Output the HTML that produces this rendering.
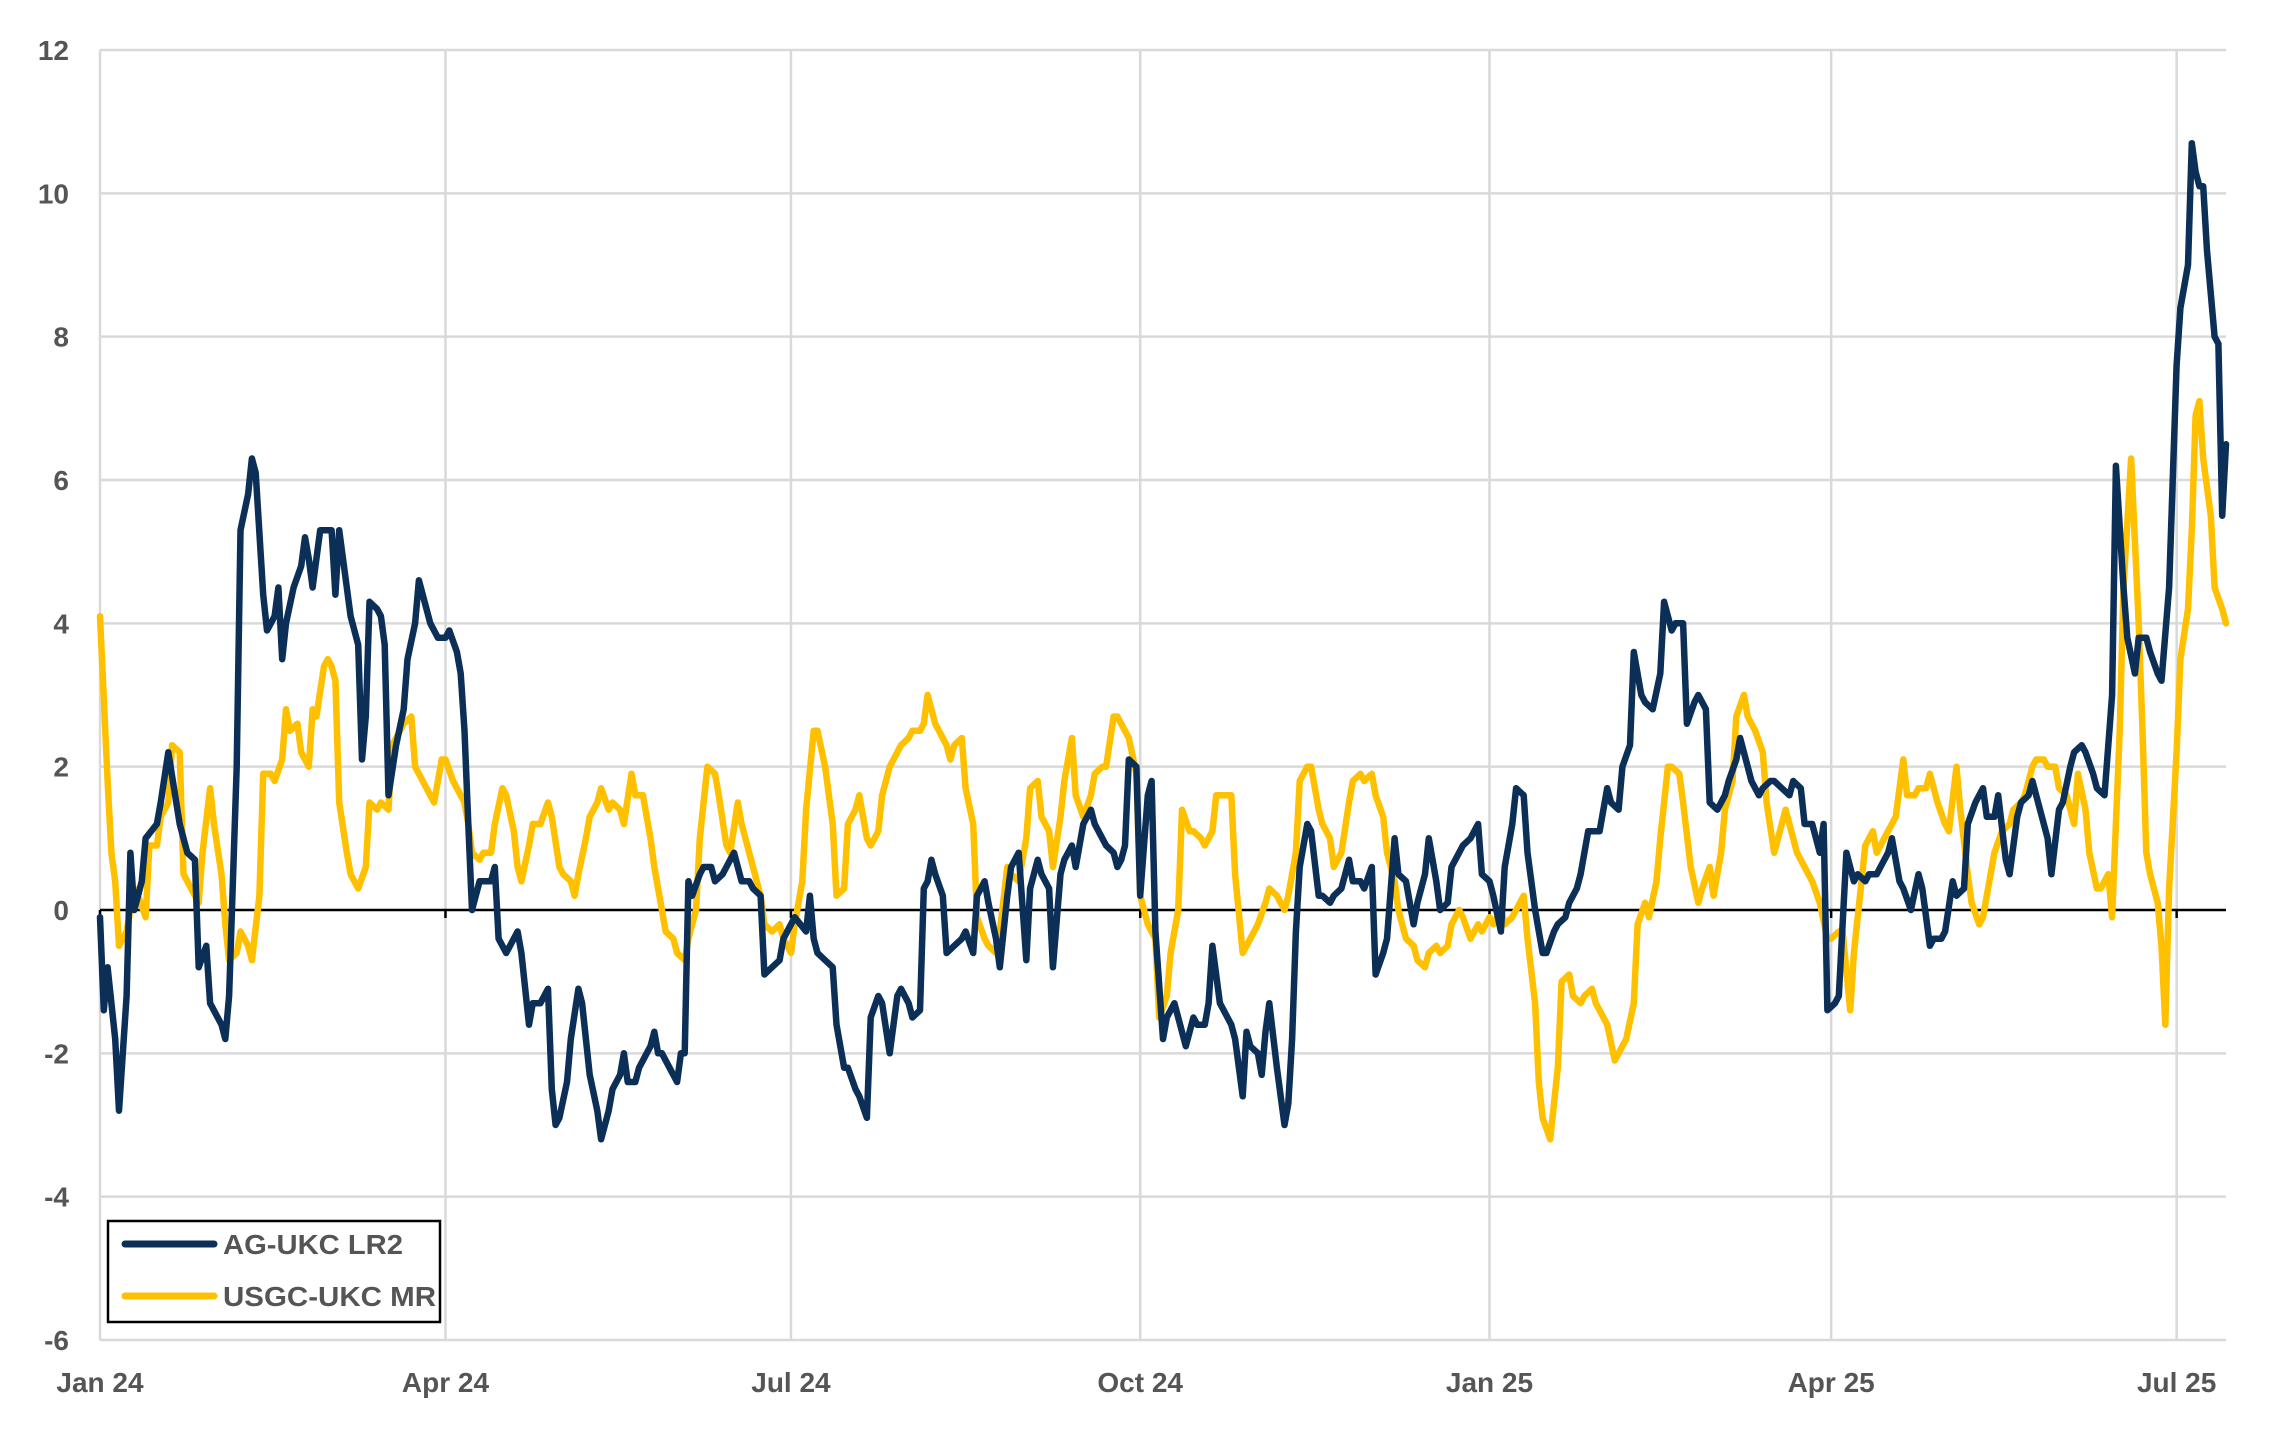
<!DOCTYPE html>
<html><head><meta charset="utf-8"><style>
html,body{margin:0;padding:0;background:#fff;}
svg{display:block;}
text{font-family:"Liberation Sans",sans-serif;font-weight:bold;fill:#555;}
</style></head><body>
<svg id="chart" width="2269" height="1429" viewBox="0 0 2269 1429" xmlns="http://www.w3.org/2000/svg">
<g id="grid"></g>
<g id="axes"></g>
<g id="series"></g>
<g>
<rect x="108" y="1221" width="332" height="101" fill="#fff" stroke="#000" stroke-width="2.5"/>
<line x1="125" y1="1244" x2="214" y2="1244" stroke="#0c2f57" stroke-width="7" stroke-linecap="round"/>
<text x="223" y="1254" font-size="28" textLength="180" lengthAdjust="spacingAndGlyphs">AG-UKC LR2</text>
<line x1="125" y1="1296" x2="214" y2="1296" stroke="#ffc000" stroke-width="7" stroke-linecap="round"/>
<text x="223" y="1306" font-size="28" textLength="213" lengthAdjust="spacingAndGlyphs">USGC-UKC MR</text>
</g>
</svg>
<script>
const yTicks=[12,10,8,6,4,2,0,-2,-4,-6];
const xTickDays=[0,91,182,274,366,456,547];
const xTickLabels=["Jan 24","Apr 24","Jul 24","Oct 24","Jan 25","Apr 25","Jul 25"];
const agDays=[0,1,2,4,5,7,8,9,11,12,15,16,18,21,23,25,26,28,29,32,33,34,36,37,39,40,41,43,44,46,47,48,49,51,53,54,55,56,58,60,61,62,63,65,66,68,69,70,71,73,74,75,76,78,80,81,83,84,86,87,89,91,92,94,95,96,97,98,100,103,104,105,107,108,110,111,113,114,116,118,119,120,121,123,124,126,127,128,129,131,132,134,135,137,138,139,141,142,144,145,146,147,148,150,152,153,154,155,156,158,159,161,162,164,165,167,168,169,171,172,174,175,177,179,180,182,183,186,187,188,189,191,193,194,196,197,199,200,202,203,205,206,208,210,211,213,214,216,217,218,219,220,222,223,225,227,228,230,231,233,234,236,237,239,240,242,244,245,247,248,250,251,253,254,256,257,259,261,262,264,265,267,268,269,270,271,273,274,276,277,278,280,281,283,285,286,288,289,291,292,293,295,296,298,299,301,302,303,305,306,307,308,310,312,313,314,315,316,318,319,321,322,324,325,327,329,330,332,333,335,336,338,339,341,342,344,346,347,349,350,352,353,355,356,358,359,361,363,364,366,367,369,370,372,373,375,376,378,380,381,383,384,386,387,389,390,392,394,395,397,398,400,401,403,404,406,407,409,411,412,414,415,417,418,420,421,423,424,426,428,429,431,432,434,435,437,438,440,441,443,445,446,448,449,451,452,453,454,455,457,458,460,462,463,465,466,468,469,471,472,474,475,477,479,480,482,483,485,486,488,489,491,492,494,496,497,499,500,502,503,505,506,508,509,511,513,514,516,517,519,520,522,523,525,526,528,530,531,533,534,536,537,539,540,542,543,545,547,548,550,551,552,553,554,555,557,558,559,560];
const agValues=[-0.1,-1.4,-0.8,-1.8,-2.8,-1.2,0.8,0,0.4,1,1.2,1.5,2.2,1.2,0.8,0.7,-0.8,-0.5,-1.3,-1.6,-1.8,-1.2,2,5.3,5.8,6.3,6.1,4.4,3.9,4.1,4.5,3.5,4,4.5,4.8,5.2,4.9,4.5,5.3,5.3,5.3,4.4,5.3,4.5,4.1,3.7,2.1,2.7,4.3,4.2,4.1,3.7,1.6,2.3,2.8,3.5,4,4.6,4.2,4,3.8,3.8,3.9,3.6,3.3,2.5,1.2,0,0.4,0.4,0.6,-0.4,-0.6,-0.5,-0.3,-0.6,-1.6,-1.3,-1.3,-1.1,-2.5,-3.0,-2.9,-2.4,-1.8,-1.1,-1.3,-1.8,-2.3,-2.8,-3.2,-2.8,-2.5,-2.3,-2.0,-2.4,-2.4,-2.2,-2.0,-1.9,-1.7,-2.0,-2.0,-2.2,-2.4,-2.0,-2.0,0.4,0.2,0.5,0.6,0.6,0.4,0.5,0.6,0.8,0.6,0.4,0.4,0.3,0.2,-0.9,-0.8,-0.7,-0.4,-0.2,-0.1,-0.3,0.2,-0.4,-0.6,-0.7,-0.8,-1.6,-2.2,-2.2,-2.5,-2.6,-2.9,-1.5,-1.2,-1.3,-2.0,-1.2,-1.1,-1.3,-1.5,-1.4,0.3,0.4,0.7,0.5,0.2,-0.6,-0.5,-0.4,-0.3,-0.6,0.2,0.4,0.1,-0.4,-0.8,0.2,0.6,0.8,-0.7,0.3,0.7,0.5,0.3,-0.8,0.5,0.7,0.9,0.6,1.2,1.4,1.2,1.0,0.9,0.8,0.6,0.7,0.9,2.1,2.0,0.2,1.6,1.8,-0.3,-1.8,-1.5,-1.3,-1.7,-1.9,-1.5,-1.6,-1.6,-1.3,-0.5,-1.3,-1.4,-1.6,-1.8,-2.6,-1.7,-1.9,-2.0,-2.3,-1.7,-1.3,-2.2,-3.0,-2.7,-1.8,-0.3,0.6,1.2,1.1,0.2,0.2,0.1,0.2,0.3,0.7,0.4,0.4,0.3,0.6,-0.9,-0.6,-0.4,1.0,0.5,0.4,-0.2,0.1,0.5,1.0,0.4,0.0,0.1,0.6,0.8,0.9,1.0,1.2,0.5,0.4,0.2,-0.3,0.6,1.2,1.7,1.6,0.8,0.0,-0.6,-0.6,-0.3,-0.2,-0.1,0.1,0.3,0.5,1.1,1.1,1.1,1.7,1.5,1.4,2.0,2.3,3.6,3.0,2.9,2.8,3.3,4.3,3.9,4.0,4.0,2.6,2.9,3.0,2.8,1.5,1.4,1.6,1.8,2.1,2.4,2.0,1.8,1.6,1.7,1.8,1.8,1.7,1.6,1.8,1.7,1.2,1.2,1.0,0.8,1.2,-1.4,-1.3,-1.2,0.8,0.4,0.5,0.4,0.5,0.5,0.6,0.8,1.0,0.4,0.3,0.0,0.5,0.3,-0.5,-0.4,-0.4,-0.3,0.4,0.2,0.3,1.2,1.5,1.7,1.3,1.3,1.6,0.7,0.5,1.3,1.5,1.6,1.8,1.4,1.0,0.5,1.4,1.5,2.0,2.2,2.3,2.2,1.9,1.7,1.6,3.0,6.2,4.5,3.8,3.3,3.8,3.8,3.6,3.3,3.2,4.5,7.6,8.4,9.0,10.7,10.3,10.1,10.1,9.2,8.0,7.9,5.5,6.5];
const usDays=[0,2,3,4,5,7,9,10,12,13,15,16,18,19,21,22,24,26,27,29,30,32,33,34,36,37,39,40,42,43,45,46,48,49,50,52,53,55,56,57,59,60,61,62,63,65,66,68,70,71,73,74,76,77,79,80,82,83,85,87,88,90,91,93,94,96,97,98,100,101,103,104,106,107,109,110,111,113,114,116,118,119,121,122,124,125,126,128,129,131,132,134,135,137,138,140,141,143,145,146,148,149,151,152,154,155,157,158,160,162,163,165,166,168,169,171,172,174,175,177,179,180,182,183,185,186,188,189,191,193,194,196,197,199,200,202,203,205,206,208,210,211,213,214,216,217,218,220,221,223,224,225,227,228,230,231,233,234,236,237,239,240,242,244,245,247,248,250,251,253,254,256,257,259,261,262,264,265,267,268,270,271,273,274,276,278,279,281,282,284,285,287,288,290,291,293,294,296,298,299,301,302,304,305,307,308,310,312,313,315,316,318,319,321,322,324,325,327,329,330,332,333,335,336,338,339,341,342,344,346,347,349,350,352,353,355,356,358,359,361,363,364,366,367,369,370,372,373,375,376,378,379,380,382,384,385,387,388,390,391,393,394,396,397,399,400,402,404,405,407,408,410,411,413,414,416,417,419,421,422,424,425,427,428,430,431,433,434,436,438,439,441,442,444,445,447,448,450,451,453,455,456,458,459,461,462,464,465,467,468,470,472,473,475,476,478,479,481,482,484,486,487,489,490,492,493,495,496,498,499,501,503,504,506,507,509,510,512,513,515,516,518,520,521,523,524,526,527,529,530,532,533,535,537,538,539,540,542,543,544,545,547,548,550,551,552,553,554,556,557,559,560];
const usValues=[4.1,1.8,0.8,0.4,-0.5,-0.3,0.3,0.2,-0.1,0.9,0.9,1.3,1.5,2.3,2.2,0.5,0.3,0.1,0.8,1.7,1.2,0.5,-0.2,-0.7,-0.6,-0.3,-0.5,-0.7,0.2,1.9,1.9,1.8,2.1,2.8,2.5,2.6,2.2,2.0,2.8,2.7,3.4,3.5,3.4,3.2,1.5,0.8,0.5,0.3,0.6,1.5,1.4,1.5,1.4,2.3,2.5,2.6,2.7,2.0,1.8,1.6,1.5,2.1,2.1,1.8,1.7,1.5,1.2,0.8,0.7,0.8,0.8,1.2,1.7,1.6,1.1,0.6,0.4,0.9,1.2,1.2,1.5,1.3,0.6,0.5,0.4,0.2,0.5,1.0,1.3,1.5,1.7,1.4,1.5,1.4,1.2,1.9,1.6,1.6,1.0,0.6,0.0,-0.3,-0.4,-0.6,-0.7,-0.4,0.0,1.0,2.0,1.9,1.6,0.9,0.8,1.5,1.2,0.8,0.6,0.2,-0.2,-0.3,-0.2,-0.4,-0.6,-0.2,0.4,1.4,2.5,2.5,2.0,1.2,0.2,0.3,1.2,1.4,1.6,1.0,0.9,1.1,1.6,2.0,2.2,2.3,2.4,2.5,2.5,2.6,3.0,2.6,2.5,2.3,2.1,2.3,2.4,1.7,1.2,-0.1,-0.4,-0.5,-0.6,-0.3,0.6,0.5,0.4,1.0,1.7,1.8,1.3,1.1,0.6,1.3,1.8,2.4,1.6,1.3,1.6,1.9,2.0,2.0,2.7,2.7,2.5,2.4,1.9,0.2,-0.2,-0.4,-1.5,-1.2,-0.6,0.0,1.4,1.1,1.1,1.0,0.9,1.1,1.6,1.6,1.6,0.5,-0.6,-0.5,-0.3,-0.2,0.1,0.3,0.2,0.0,0.2,0.8,1.8,2.0,2.0,1.4,1.2,1.0,0.6,0.8,1.5,1.8,1.9,1.8,1.9,1.6,1.3,0.8,0.4,0.0,-0.4,-0.5,-0.7,-0.8,-0.6,-0.5,-0.6,-0.5,-0.2,0.0,-0.1,-0.4,-0.2,-0.3,-0.1,-0.2,0.0,-0.2,-0.1,0.0,0.2,-0.4,-1.3,-2.4,-2.9,-3.2,-2.2,-1.0,-0.9,-1.2,-1.3,-1.2,-1.1,-1.3,-1.5,-1.6,-2.1,-2.0,-1.8,-1.3,-0.2,0.1,-0.1,0.4,1.0,2.0,2.0,1.9,1.5,0.6,0.1,0.3,0.6,0.2,0.8,1.4,1.8,2.7,3.0,2.7,2.5,2.2,1.5,0.8,1.0,1.4,1.2,0.8,0.7,0.5,0.4,0.1,-0.4,-0.4,-0.3,-0.3,-1.4,-0.6,0.4,0.9,1.1,0.8,1.0,1.2,1.3,2.1,1.6,1.6,1.7,1.7,1.9,1.5,1.2,1.1,2.0,1.4,0.5,0.1,-0.2,-0.1,0.5,0.8,1.1,1.2,1.4,1.5,1.6,2.0,2.1,2.1,2.0,2.0,1.7,1.6,1.2,1.9,1.4,0.8,0.3,0.3,0.5,-0.1,2.5,4.5,6.3,4.0,2.5,0.8,0.5,0.1,-0.5,-1.6,0.3,2.2,3.5,4.2,5.3,6.9,7.1,6.3,5.5,4.5,4.2,4.0];

const NS="http://www.w3.org/2000/svg";
const X0=100,X1=2226,Y0=50,Y1=1340,DMAX=560,VMIN=-6,VMAX=12;
function xs(d){return X0+(d/DMAX)*(X1-X0);}
function ys(v){return Y0+(VMAX-v)/(VMAX-VMIN)*(Y1-Y0);}
function mk(tag,attrs,parent){const e=document.createElementNS(NS,tag);for(const k in attrs)e.setAttribute(k,attrs[k]);parent.appendChild(e);return e;}
const grid=document.getElementById('grid'),axes=document.getElementById('axes'),ser=document.getElementById('series');
yTicks.forEach(t=>{
  if(t!==0){const l=mk('line',{x1:X0,x2:X1,y1:ys(t),y2:ys(t),stroke:'#d9d9d9','stroke-width':2.5},grid);
  
  }
  const tx=mk('text',{x:69,y:ys(t)+10,'font-size':28,'text-anchor':'end'},axes);
  tx.textContent=String(t);
  
  
});
xTickDays.forEach((d,i)=>{
  const l=mk('line',{x1:xs(d),x2:xs(d),y1:Y0,y2:Y1,stroke:'#d9d9d9','stroke-width':2.5},grid);
  
  
  const tk=mk('line',{x1:xs(d),x2:xs(d),y1:ys(0),y2:ys(0)+8,stroke:'#000','stroke-width':2.5},axes);
  
  
  const tx=mk('text',{x:xs(d),y:1392,'font-size':28,'text-anchor':'middle'},axes);
  tx.textContent=xTickLabels[i];
  
  
});
const zl=mk('line',{x1:X0,x2:X1,y1:ys(0),y2:ys(0),stroke:'#000','stroke-width':2.5},axes);


function drawLine(days,vals,color,name){
  const pts=days.map((d,i)=>xs(d).toFixed(1)+','+ys(vals[i]).toFixed(1)).join(' ');
  const p=mk('polyline',{points:pts,fill:'none',stroke:color,'stroke-width':6.5,'stroke-linejoin':'round','stroke-linecap':'round'},ser);
  
  
}
drawLine(usDays,usValues,'#ffc000','usgc-ukc-mr-line');
drawLine(agDays,agValues,'#0c2f57','ag-ukc-lr2-line');
</script>
</body></html>
